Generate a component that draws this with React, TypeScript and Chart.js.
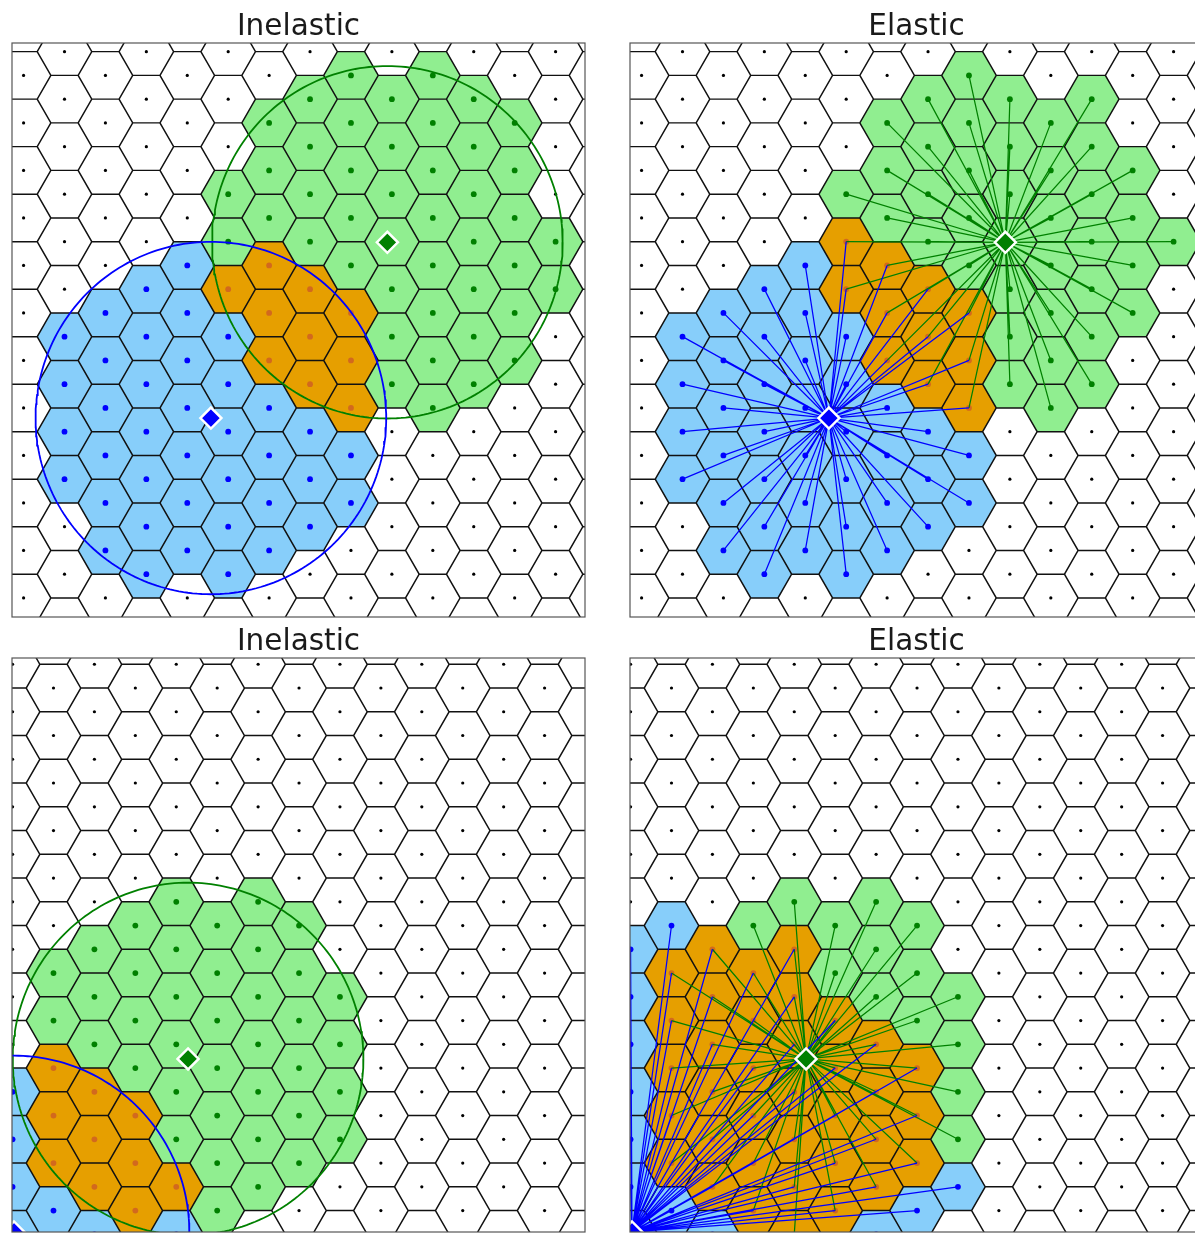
import React, { useEffect, useRef } from "react";
import { Chart, registerables } from "chart.js";

Chart.register(...registerables);

type ColumnCells = [number, number[]][];
type Pt = { x: number; y: number };

// Lattice geometry: neighbouring cell centres are 1 unit apart, flat-topped hexagons.
const SQ3_2 = Math.sqrt(3) / 2;
const HEX_R = 1 / Math.sqrt(3);

// ---------- top row (column, half-row index) ----------
const topInelasticBlue: ColumnCells = [
  [1, [12, 14, 16, 18]],
  [2, [11, 13, 15, 17, 19, 21]],
  [3, [10, 12, 14, 16, 18, 20, 22]],
  [4, [9, 11, 13, 15, 17, 19, 21]],
  [5, [12, 14, 16, 18, 20, 22]],
  [6, [15, 17, 19, 21]],
  [7, [16, 18, 20]],
  [8, [17, 19]],
];
const topInelasticOrange: ColumnCells = [
  [5, [10]],
  [6, [9, 11, 13]],
  [7, [10, 12, 14]],
  [8, [11, 13, 15]],
];
const topInelasticGreen: ColumnCells = [
  [5, [6, 8]],
  [6, [3, 5, 7]],
  [7, [2, 4, 6, 8]],
  [8, [1, 3, 5, 7, 9]],
  [9, [2, 4, 6, 8, 10, 12, 14]],
  [10, [1, 3, 5, 7, 9, 11, 13, 15]],
  [11, [2, 4, 6, 8, 10, 12, 14]],
  [12, [3, 5, 7, 9, 11, 13]],
  [13, [8, 10]],
];

const topElasticBlue: ColumnCells = [
  [1, [12, 14, 16, 18]],
  [2, [11, 13, 15, 17, 19, 21]],
  [3, [10, 12, 14, 16, 18, 20, 22]],
  [4, [9, 11, 13, 15, 17, 19, 21]],
  [5, [12, 14, 16, 18, 20, 22]],
  [6, [15, 17, 19, 21]],
  [7, [16, 18, 20]],
  [8, [17, 19]],
];
const topElasticOrange: ColumnCells = [
  [5, [8, 10]],
  [6, [9, 11, 13]],
  [7, [10, 12, 14]],
  [8, [11, 13, 15]],
];
const topElasticGreen: ColumnCells = [
  [5, [6]],
  [6, [3, 5, 7]],
  [7, [2, 4, 6, 8]],
  [8, [1, 3, 5, 7, 9]],
  [9, [2, 4, 6, 8, 10, 12, 14]],
  [10, [3, 5, 7, 9, 11, 13, 15]],
  [11, [2, 4, 6, 8, 10, 12, 14]],
  [12, [5, 7, 9, 11]],
  [13, [8]],
];

// ---------- bottom row ----------
const bottomInelasticBlue: ColumnCells = [
  [0, [18, 20, 22, 24]],
  [1, [23]],
  [2, [24]],
  [4, [24]],
];
const bottomInelasticOrange: ColumnCells = [
  [1, [17, 19, 21]],
  [2, [18, 20, 22]],
  [3, [19, 21, 23]],
  [4, [22]],
];
const bottomInelasticGreen: ColumnCells = [
  [1, [13, 15]],
  [2, [12, 14, 16]],
  [3, [11, 13, 15, 17]],
  [4, [10, 12, 14, 16, 18, 20]],
  [5, [11, 13, 15, 17, 19, 21, 23]],
  [6, [10, 12, 14, 16, 18, 20, 22]],
  [7, [11, 13, 15, 17, 19, 21]],
  [8, [14, 16, 18, 20]],
];

const bottomElasticBlue: ColumnCells = [
  [0, [12, 14, 16, 18, 20, 22, 24]],
  [1, [11, 23]],
  [2, [24]],
  [6, [24]],
  [7, [23]],
  [8, [22]],
];
const bottomElasticOrange: ColumnCells = [
  [1, [13, 15, 17, 19, 21]],
  [2, [12, 14, 16, 18, 20, 22]],
  [3, [13, 15, 17, 19, 21, 23]],
  [4, [12, 14, 16, 18, 20, 22, 24]],
  [5, [15, 17, 19, 21, 23]],
  [6, [16, 18, 20, 22]],
  [7, [17, 19, 21]],
];
const bottomElasticGreen: ColumnCells = [
  [3, [11]],
  [4, [10]],
  [5, [11, 13]],
  [6, [10, 12, 14]],
  [7, [11, 13, 15]],
  [8, [14, 16, 18, 20]],
];

// Group centres (diamonds) and neighbourhood radius
const topGreenCenter: Pt = { x: 7.698, y: 4.013 };
const topBlueCenter: Pt = { x: 3.964, y: 7.713 };
const bottomGreenCenter: Pt = { x: 3.714, y: 8.308 };
const bottomBlueCenter: Pt = { x: 0.03, y: 11.95 };
const neighbourhoodRadius = 3.71;

const titles = ["Inelastic", "Elastic", "Inelastic", "Elastic"];

// ---------- styling ----------
const COLORS = {
  greenFill: "#90EE90",
  blueFill: "#87CEFA",
  orangeFill: "#E69F00",
  green: "#008000",
  blue: "#0000FF",
  orangeDot: "#D2691E",
  edge: "#111111",
  frame: "#555555",
};

const PLOT_W = 579;
const PLOT_H = 577;
const PAD_L = 10;
const PAD_R = 10;
const PAD_T = 50;
const PAD_B = 10;
const CANVAS_W = PLOT_W + PAD_L + PAD_R;
const CANVAS_H = PLOT_H + PAD_T + PAD_B;
const PX_PER_UNIT = 47.75;

interface PanelSpec {
  title: string;
  left: number;
  top: number;
  xMin: number;
  yMin: number;
  parity: number;
  blue: ColumnCells;
  orange: ColumnCells;
  green: ColumnCells;
  greenCenter: Pt;
  blueCenter: Pt;
  elastic: boolean;
}

const TOP_X_MIN = -0.245;
const TOP_Y_MIN = -0.182;
const BOTTOM_X_MIN = -0.012;
const BOTTOM_Y_MIN = -0.132;

const panels: PanelSpec[] = [
  {
    title: titles[0], left: 9, top: 43, xMin: TOP_X_MIN, yMin: TOP_Y_MIN, parity: 1,
    blue: topInelasticBlue, orange: topInelasticOrange, green: topInelasticGreen,
    greenCenter: topGreenCenter, blueCenter: topBlueCenter, elastic: false,
  },
  {
    title: titles[1], left: 627, top: 43, xMin: TOP_X_MIN, yMin: TOP_Y_MIN, parity: 1,
    blue: topElasticBlue, orange: topElasticOrange, green: topElasticGreen,
    greenCenter: topGreenCenter, blueCenter: topBlueCenter, elastic: true,
  },
  {
    title: titles[2], left: 9, top: 658, xMin: BOTTOM_X_MIN, yMin: BOTTOM_Y_MIN, parity: 0,
    blue: bottomInelasticBlue, orange: bottomInelasticOrange, green: bottomInelasticGreen,
    greenCenter: bottomGreenCenter, blueCenter: bottomBlueCenter, elastic: false,
  },
  {
    title: titles[3], left: 627, top: 658, xMin: BOTTOM_X_MIN, yMin: BOTTOM_Y_MIN, parity: 0,
    blue: bottomElasticBlue, orange: bottomElasticOrange, green: bottomElasticGreen,
    greenCenter: bottomGreenCenter, blueCenter: bottomBlueCenter, elastic: true,
  },
];

// ---------- geometry helpers ----------
const cellCenter = (col: number, h: number): Pt => ({ x: col * SQ3_2, y: h / 2 });

function expand(cols: ColumnCells): Pt[] {
  const out: Pt[] = [];
  for (const [c, hs] of cols) for (const h of hs) out.push(cellCenter(c, h));
  return out;
}

function hexRing(p: Pt): Pt[] {
  const pts: Pt[] = [];
  for (let i = 0; i <= 6; i++) {
    const a = (i * Math.PI) / 3;
    pts.push({ x: p.x + HEX_R * Math.cos(a), y: p.y + HEX_R * Math.sin(a) });
  }
  return pts;
}

function key(c: number, h: number) {
  return c + ":" + h;
}

function buildDatasets(spec: PanelSpec): any[] {
  const ds: any[] = [];
  const colored = new Set<string>();
  for (const list of [spec.blue, spec.orange, spec.green])
    for (const [c, hs] of list) for (const h of hs) colored.add(key(c, h));

  // all lattice cells
  const lattice: [number, number][] = [];
  for (let c = -1; c <= 15; c++)
    for (let h = -2; h <= 27; h++)
      if ((((c + h) % 2) + 2) % 2 === spec.parity) lattice.push([c, h]);

  const fillGroups: [ColumnCells, string][] = [
    [spec.blue, COLORS.blueFill],
    [spec.orange, COLORS.orangeFill],
    [spec.green, COLORS.greenFill],
  ];
  for (const [cells, color] of fillGroups) {
    for (const p of expand(cells)) {
      ds.push({
        data: hexRing(p),
        fill: "shape",
        backgroundColor: color,
        borderWidth: 0,
        pointRadius: 0,
        order: 60,
        clip: 0,
      });
    }
  }

  // hexagon edges, one broken polyline
  const edges: any[] = [];
  for (const [c, h] of lattice) {
    const ring = hexRing(cellCenter(c, h));
    edges.push(...ring);
    edges.push({ x: ring[6].x, y: null });
  }
  ds.push({
    data: edges,
    borderColor: COLORS.edge,
    borderWidth: 1.45,
    pointRadius: 0,
    fill: false,
    spanGaps: false,
    order: 50,
    clip: 0,
  });

  // cell dots
  const whiteDots = lattice.filter(([c, h]) => !colored.has(key(c, h))).map(([c, h]) => cellCenter(c, h));
  const dotGroups: [Pt[], string, number][] = [
    [whiteDots, "#000000", 1.6],
    [expand(spec.blue), COLORS.blue, 2.9],
    [expand(spec.orange), COLORS.orangeDot, 2.9],
    [expand(spec.green), COLORS.green, 2.9],
  ];
  for (const [pts, color, r] of dotGroups) {
    ds.push({
      data: pts,
      showLine: false,
      pointRadius: r,
      pointBackgroundColor: color,
      pointBorderWidth: 0,
      order: 40,
      clip: 0,
    });
  }

  if (spec.elastic) {
    const spokes = (targets: Pt[], c: Pt) => {
      const out: any[] = [];
      for (const p of targets) {
        out.push({ x: p.x, y: p.y }, { x: c.x, y: c.y }, { x: c.x, y: null });
      }
      return out;
    };
    ds.push({
      data: spokes([...expand(spec.green), ...expand(spec.orange)], spec.greenCenter),
      borderColor: COLORS.green,
      borderWidth: 1.25,
      pointRadius: 0,
      fill: false,
      order: 30,
      clip: 0,
    });
    ds.push({
      data: spokes([...expand(spec.blue), ...expand(spec.orange)], spec.blueCenter),
      borderColor: COLORS.blue,
      borderWidth: 1.25,
      pointRadius: 0,
      fill: false,
      order: 29,
      clip: 0,
    });
  } else {
    const circle = (c: Pt) => {
      const pts: Pt[] = [];
      for (let i = 0; i <= 240; i++) {
        const a = (i / 240) * Math.PI * 2;
        pts.push({ x: c.x + neighbourhoodRadius * Math.cos(a), y: c.y + neighbourhoodRadius * Math.sin(a) });
      }
      return pts;
    };
    ds.push({
      data: circle(spec.greenCenter),
      borderColor: COLORS.green,
      borderWidth: 1.8,
      pointRadius: 0,
      fill: false,
      order: 30,
      clip: 0,
    });
    ds.push({
      data: circle(spec.blueCenter),
      borderColor: COLORS.blue,
      borderWidth: 1.8,
      pointRadius: 0,
      fill: false,
      order: 29,
      clip: 0,
    });
  }

  // group centres
  const diamonds: [Pt, string][] = [
    [spec.greenCenter, COLORS.green],
    [spec.blueCenter, COLORS.blue],
  ];
  for (const [p, color] of diamonds) {
    ds.push({
      data: [p],
      showLine: false,
      pointStyle: "rectRot",
      pointRadius: 10.5,
      pointBackgroundColor: color,
      pointBorderColor: "#FFFFFF",
      pointBorderWidth: 2.5,
      order: 10,
      clip: 0,
    });
  }
  return ds;
}

function makePlugins(title: string) {
  return [
    {
      id: "panelFrame",
      afterDatasetsDraw(chart: any) {
        const { ctx, chartArea: a } = chart;
        ctx.save();
        ctx.strokeStyle = COLORS.frame;
        ctx.lineWidth = 1.2;
        ctx.strokeRect(a.left, a.top, a.right - a.left, a.bottom - a.top);
        ctx.restore();
      },
    },
    {
      id: "panelTitle",
      afterDraw(chart: any) {
        const { ctx, chartArea: a } = chart;
        ctx.save();
        ctx.fillStyle = "#1a1a1a";
        ctx.font = '29.5px "DejaVu Sans", sans-serif';
        ctx.textAlign = "center";
        ctx.textBaseline = "alphabetic";
        ctx.fillText(title, (a.left + a.right) / 2, a.top - 8.5);
        ctx.restore();
      },
    },
  ];
}

function Panel({ spec }: { spec: PanelSpec }) {
  const ref = useRef<HTMLCanvasElement | null>(null);
  useEffect(() => {
    if (!ref.current) return;
    const chart = new Chart(ref.current, {
      type: "line",
      data: { datasets: buildDatasets(spec) },
      options: {
        animation: false,
        responsive: false,
        devicePixelRatio: 1,
        events: [],
        layout: { padding: { left: PAD_L, right: PAD_R, top: PAD_T, bottom: PAD_B } },
        plugins: {
          legend: { display: false },
          tooltip: { enabled: false },
          filler: { propagate: false },
        },
        scales: {
          x: { type: "linear", min: spec.xMin, max: spec.xMin + PLOT_W / PX_PER_UNIT, display: false },
          y: { type: "linear", min: spec.yMin, max: spec.yMin + PLOT_H / PX_PER_UNIT, reverse: true, display: false },
        },
      } as any,
      plugins: makePlugins(spec.title) as any,
    });
    return () => chart.destroy();
  }, [spec]);
  return (
    <canvas
      ref={ref}
      width={CANVAS_W}
      height={CANVAS_H}
      style={{ position: "absolute", left: spec.left - PAD_L, top: spec.top - PAD_T, width: CANVAS_W, height: CANVAS_H }}
    />
  );
}

export default function App() {
  return (
    <div
      style={{
        position: "fixed",
        left: 0,
        top: 0,
        width: 1195,
        height: 1234,
        overflow: "hidden",
        background: "#ffffff",
      }}
    >
      {panels.map((p, i) => (
        <Panel key={i} spec={p} />
      ))}
    </div>
  );
}
